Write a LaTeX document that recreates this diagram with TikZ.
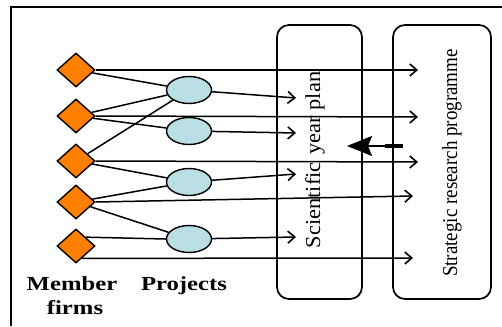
\documentclass[tikz,border=0pt]{standalone}
\usepackage{fontspec}
\setmainfont{Liberation Serif}
\usetikzlibrary{shapes.geometric,arrows.meta,calc}
\definecolor{firmorange}{RGB}{255,128,0}
\definecolor{projblue}{RGB}{185,223,228}
\tikzset{
  firm/.style={shape=diamond, draw=black, line width=1.4pt, fill=firmorange,
    minimum width=38pt, minimum height=34pt, inner sep=0pt},
  proj/.style={shape=ellipse, draw=black, line width=1.4pt, fill=projblue,
    minimum width=45pt, minimum height=27pt, inner sep=0pt},
  plan/.style={draw=black, line width=1.7pt, rounded corners=12pt},
  link/.style={line width=1.5pt},
  flow/.style={line width=1.5pt, -{Straight Barb[length=7pt,width=12pt,line width=1.6pt]}},
  lbl/.style={font=\bfseries\fontsize{19}{22}\selectfont, inner sep=0pt},
  vlbl/.style={font=\fontsize{19}{22}\selectfont, inner sep=0pt, rotate=90}
}
\begin{document}
\begin{tikzpicture}[x=1pt,y=-1pt]
\useasboundingbox (0,0) rectangle (502,326);
% frame
\draw[line width=2pt] (11,326) -- (11,7) -- (502,7);

% plan boxes
\node[plan, minimum width=85pt, minimum height=274pt] (sci) at (319.5,162) {};
\node[plan, minimum width=98pt, minimum height=274pt] (strat) at (442,162) {};
\node[vlbl] (scitext) at (315,160) {\scalebox{1.18}[1.12]{Scientific\hspace{0.35em}year plan}};
\node[vlbl] (strattext) at (452,163) {\scalebox{1}[1.12]{Strategic research programme}};

% member firms
\node[firm] (d1) at (76,70) {};
\node[firm] (d2) at (76,116) {};
\node[firm] (d3) at (76,161) {};
\node[firm] (d4) at (76,202) {};
\node[firm] (d5) at (76,246) {};

% projects
\node[proj] (e1) at (189,90) {};
\node[proj] (e2) at (189,131) {};
\node[proj] (e3) at (189,182) {};
\node[proj] (e4) at (189,239) {};

% arrow targets
\coordinate (a1) at (418,70);
\coordinate (a2) at (418,117);
\coordinate (a3) at (418,162);
\coordinate (a4) at (413,196);
\coordinate (a5) at (413,258);
\coordinate (p1) at (296,98);
\coordinate (p2) at (296,133);
\coordinate (p3) at (296,174);
\coordinate (p4) at (296,237);
\coordinate (fb0) at (403,146);
\coordinate (fb1) at (385,146);
\coordinate (fb2) at (347,146);

% firms to programme
\draw[flow] (d1.east) -- (a1);
\draw[flow] (d2.east) -- (a2);
\draw[flow] (d3.east) -- (a3);
\draw[flow] (d4.east) -- (a4);
\draw[flow] ($(d5.south)!0.3!(d5.east)$) -- (a5);

% firms to projects
\draw[link] (d1) -- (e1);
\draw[link] (d2) -- (e1);
\draw[link] (d2) -- (e2);
\draw[link] (d3) -- (e1);
\draw[link] (d3) -- (e3);
\draw[link] (d4) -- (e3);
\draw[link] (d4) -- (e4);
\draw[link] (d5.north east) -- (e4.west);

% projects to year plan
\draw[flow] (e1) -- (p1);
\draw[flow] (e2) -- (p2);
\draw[flow] (e3) -- (p3);
\draw[flow] (e4) -- (p4);

% feedback from programme to year plan
\draw[line width=3.8pt] (fb0) -- (fb1);
\draw[line width=1.5pt, -{Stealth[length=25pt,width=20pt,inset=4pt]}] (fb1) -- (fb2);

% labels
\node[lbl, anchor=base] (member) at (72,290) {\scalebox{1.3}[1.05]{Member}};
\node[lbl, anchor=base] (firms) at (75,314) {\scalebox{1.3}[1.05]{firms}};
\node[lbl, anchor=base] (projects) at (184,290) {\scalebox{1.3}[1.05]{Projects}};
\end{tikzpicture}
\end{document}
